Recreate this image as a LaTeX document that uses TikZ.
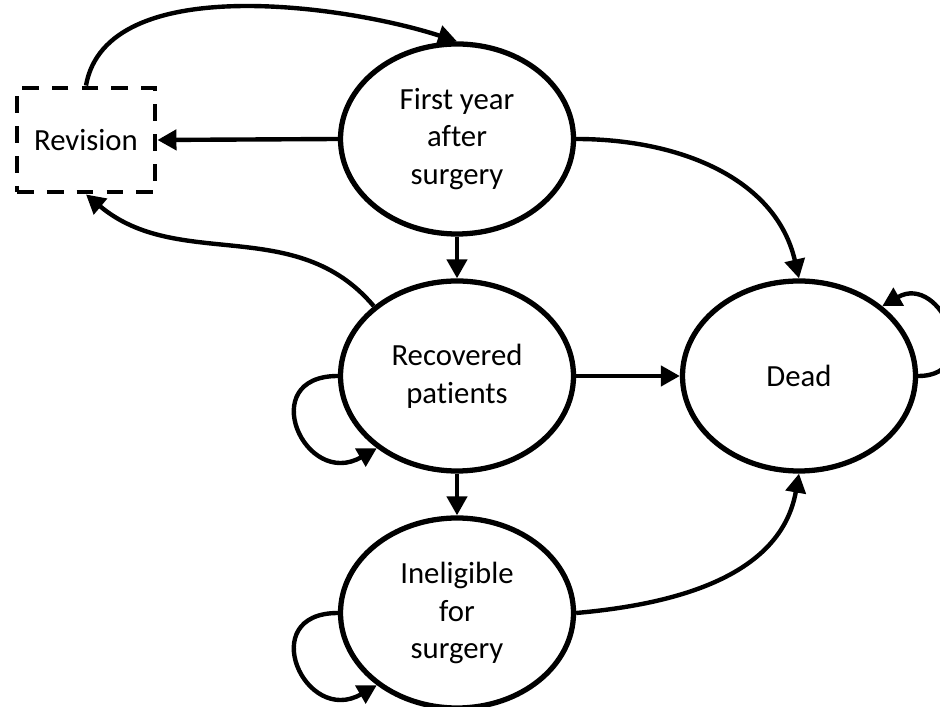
\documentclass[tikz,border=0pt]{standalone}
\usepackage{fontspec}
\setmainfont{Carlito}[Ligatures=NoCommon]
\usetikzlibrary{shapes.geometric}
\usetikzlibrary{arrows,arrows.meta}

\begin{document}
\begin{tikzpicture}[
    state/.style={draw, ellipse, line width=3pt, minimum width=4.66cm, minimum height=3.8cm, inner sep=0pt, align=center, font=\fontsize{17.5}{21.5}\selectfont},
    box/.style={draw, line width=2.8pt, dash pattern=on 9.5pt off 7.5pt, minimum width=2.76cm, minimum height=2.08cm, font=\fontsize{17.5}{21.5}\selectfont},
    arr/.style={line width=2.5pt, -{Triangle[length=0.38cm, width=0.4cm]}}
]

    \useasboundingbox (0,0) rectangle (18.8,14.12);

    \node[state] (first) at (9.14,11.34) {First year\\after\\surgery};
    \node[state] (recov) at (9.14,6.6) {Recovered\\patients};
    \node[state] (dead) at (15.98,6.6) {Dead};
    \node[state] (inel) at (9.14,1.86) {Ineligible\\for\\surgery};
    \node[box] (rev) at (1.72,11.32) {Revision};

    \draw[arr] (first.west) -- (rev.east);
    \draw[arr] (rev.north) to[out=80, in=162, looseness=0.8] (first.north);
    \draw[arr] (recov.140) to[out=130, in=-40] (rev.south);
    \draw[arr] (first.east) to[out=0, in=103] (dead.north);

    \draw[arr] (first.south) -- (recov.north);
    \draw[arr] (recov.south) -- (inel.north);
    \draw[arr] (recov.east) -- (dead.west);
    \draw[arr] (inel.east) to[out=5, in=-100] (dead.south);

    % self loops
    \draw[arr] (recov.west) to[out=180, in=210, looseness=2.6] (recov.222);
    \draw[arr] (inel.west) to[out=180, in=210, looseness=2.6] (inel.222);
    \draw[arr] (dead.east) to[out=0, in=30, looseness=2.2] (dead.40);

\end{tikzpicture}
\end{document}
